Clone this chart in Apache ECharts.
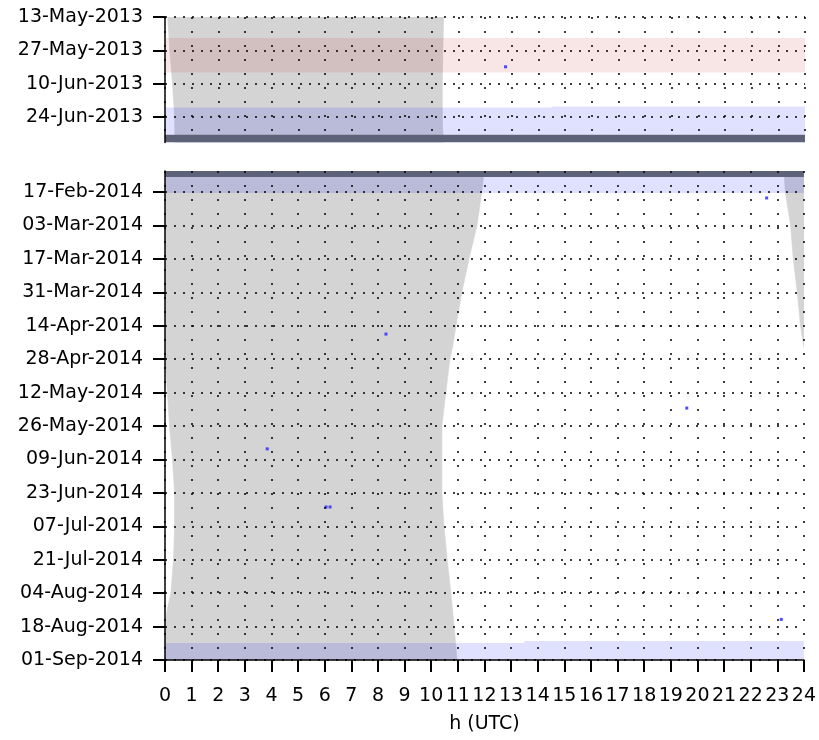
<!DOCTYPE html>
<html>
<head>
<meta charset="utf-8">
<script src="https://cdn.jsdelivr.net/npm/echarts@6/dist/echarts.min.js"></script>
<style>html,body{margin:0;padding:0;background:#fff}#c{width:819px;height:740px}</style>
</head>
<body>
<div id="c"></div>
<script>
// ---------------- data ----------------
const hourTicks = [0,1,2,3,4,5,6,7,8,9,10,11,12,13,14,15,16,17,18,19,20,21,22,23,24];

// top panel (2013)
const topTickDates = ['2013-05-13','2013-05-27','2013-06-10','2013-06-24'];
const topStart = '2013-05-13';
const topEnd = '2013-07-04 17:00';
const nightTopDates = ['2013-05-13','2013-05-27','2013-06-10','2013-06-24','2013-07-05'];
const nightTopStart = [0.10, 0.18, 0.28, 0.36, 0.37];
const nightTopEnd   = [10.45, 10.42, 10.40, 10.40, 10.43];
const bandTopKind = ['red','blue','blue','dark'];
const bandTopFrom = ['2013-05-21 19:00','2013-06-19 23:00','2013-06-19 13:00','2013-07-01 10:00'];
const bandTopTo   = ['2013-06-05 07:00','2013-07-01 10:00','2013-07-01 10:00','2013-07-04 17:00'];
const bandTopH0 = [0, 0, 14.5, 0];
const bandTopH1 = [24, 14.5, 24, 24];
const detTopDates = ['2013-06-02 22:00'];
const detTopHours = [12.77];

// bottom panel (2014)
const botTickDates = ['2014-02-17','2014-03-03','2014-03-17','2014-03-31','2014-04-14','2014-04-28','2014-05-12','2014-05-26','2014-06-09','2014-06-23','2014-07-07','2014-07-21','2014-08-04','2014-08-18','2014-09-01'];
const botStart = '2014-02-08 05:00';
const botEnd = '2014-09-01';
const nightBotDates = ['2014-02-07','2014-02-17','2014-03-03','2014-03-17','2014-03-31','2014-04-14','2014-04-23','2014-04-28','2014-05-12','2014-05-26','2014-06-09','2014-06-23','2014-07-07','2014-07-21','2014-08-04','2014-08-11','2014-08-18','2014-09-01'];
const nightBotStart = [-0.75,-0.70,-0.50,-0.40,-0.25,-0.13,0.00,0.00,0.09,0.17,0.28,0.36,0.36,0.32,0.22,0.08,0.00,0.00];
const nightBotEnd   = [12.00,11.90,11.72,11.42,11.15,10.93,10.80,10.70,10.55,10.40,10.40,10.40,10.48,10.60,10.74,10.80,10.86,10.97];
const bandBotKind = ['dark','blue','blue','blue'];
const bandBotFrom = ['2014-02-08 05:00','2014-02-10 17:00','2014-08-24 22:00','2014-08-24 01:00'];
const bandBotTo   = ['2014-02-10 17:00','2014-02-17 10:00','2014-09-01','2014-09-01'];
const bandBotH0 = [0, 0, 0, 13.5];
const bandBotH1 = [24, 24, 13.5, 24];
const detBotDates = ['2014-02-19 12:00','2014-04-17 12:00','2014-05-18 12:00','2014-06-04 14:00','2014-06-28 22:00','2014-06-28 22:00','2014-08-15 00:00'];
const detBotHours = [22.6, 8.3, 19.6, 3.84, 6.05, 6.2, 23.15];

// ---------------- helpers ----------------
const MONTHS = ['Jan','Feb','Mar','Apr','May','Jun','Jul','Aug','Sep','Oct','Nov','Dec'];
function dayNum(s){
  const parts = s.split(' ');
  const [Y,M,D] = parts[0].split('-').map(Number);
  let h=0, m=0;
  if (parts[1]) { [h,m] = parts[1].split(':').map(Number); }
  return Date.UTC(Y, M-1, D, h, m) / 86400000;
}
const top0 = dayNum(topStart);
const botRef = dayNum(botEnd);
const topVal = s => dayNum(s) - top0;
const botVal = s => botRef - dayNum(s);
function fmt(dn){
  const d = new Date(Math.round(dn) * 86400000);
  const dd = String(d.getUTCDate()).padStart(2,'0');
  return dd + '-' + MONTHS[d.getUTCMonth()] + '-' + d.getUTCFullYear();
}

// ---------------- styles ----------------
const FONT = 'DejaVu Sans';
const NIGHT = '#d4d4d4';
const BANDCOL = { red: 'rgba(200,50,50,0.12)', blue: 'rgba(0,0,255,0.12)', dark: '#5e6279' };
const gridLine = (dash) => ({ show: true, lineStyle: { color: '#000', width: 1.5, type: dash } });

function nightSeries(dates, starts, ends, valFn, idx){
  const data = [];
  for (let i = 0; i < dates.length - 1; i++) data.push([i]);
  return {
    type: 'custom', xAxisIndex: idx, yAxisIndex: idx, clip: true, z: 1, silent: true,
    data: data,
    renderItem: function(params, api){
      const i = params.dataIndex;
      const v0 = valFn(dates[i]), v1 = valFn(dates[i+1]);
      const s0 = starts[i], s1 = starts[i+1], e0 = ends[i], e1 = ends[i+1];
      const children = [];
      const main = [[Math.max(0,s0), v0],[e0, v0],[e1, v1],[Math.max(0,s1), v1]].map(p => api.coord(p));
      children.push({ type: 'polygon', shape: { points: main }, style: { fill: NIGHT, stroke: NIGHT, lineWidth: 0.6 } });
      if (s0 < 0 || s1 < 0) {
        const wrap = [[24+Math.min(0,s0), v0],[24, v0],[24, v1],[24+Math.min(0,s1), v1]].map(p => api.coord(p));
        children.push({ type: 'polygon', shape: { points: wrap }, style: { fill: NIGHT, stroke: NIGHT, lineWidth: 0.6 } });
      }
      return { type: 'group', children: children };
    }
  };
}

function bandSeries(kinds, from, to, h0, h1, valFn, idx){
  return {
    type: 'custom', xAxisIndex: idx, yAxisIndex: idx, clip: true, z: 3, silent: true,
    data: kinds.map((k, i) => [i]),
    renderItem: function(params, api){
      const i = params.dataIndex;
      const a = api.coord([h0[i], valFn(from[i])]);
      const b = api.coord([h1[i], valFn(to[i])]);
      return { type: 'rect',
        shape: { x: Math.min(a[0],b[0]), y: Math.min(a[1],b[1]), width: Math.abs(b[0]-a[0]), height: Math.abs(b[1]-a[1]) },
        style: { fill: BANDCOL[kinds[i]] } };
    }
  };
}

function detSeries(dates, hours, valFn, idx){
  return {
    type: 'scatter', xAxisIndex: idx, yAxisIndex: idx, z: 4, silent: true,
    symbol: 'rect', symbolSize: 3,
    itemStyle: { color: '#2222ff' },
    data: dates.map((d, i) => [hours[i], valFn(d)])
  };
}

const topTickVals = topTickDates.map(topVal);
const botTickVals = botTickDates.map(botVal);

const yLabel = (fn) => ({ fontFamily: FONT, fontSize: 19, color: '#000', margin: 22, formatter: fn });

const option = {
  animation: false,
  backgroundColor: '#fff',
  grid: [
    { left: 165, top: 17, width: 640, height: 125.5 },
    { left: 165, top: 171, width: 640, height: 489 }
  ],
  xAxis: [
    { gridIndex: 0, type: 'value', min: 0, max: 24, interval: 1, z: 10,
      axisLine: { show: false }, axisTick: { show: false }, axisLabel: { show: false },
      splitLine: gridLine([2, 12]) },
    { gridIndex: 1, type: 'value', min: 0, max: 24, interval: 1, z: 10,
      axisLine: { onZero: false, lineStyle: { color: '#000', width: 1.5 } },
      axisTick: { length: 12, lineStyle: { color: '#000', width: 2 }, customValues: hourTicks },
      axisLabel: { fontFamily: FONT, fontSize: 19, color: '#000', margin: 27, customValues: hourTicks },
      splitLine: gridLine([2, 12]),
      name: 'h (UTC)', nameLocation: 'middle', nameGap: 55,
      nameTextStyle: { fontFamily: FONT, fontSize: 19, color: '#000' } }
  ],
  yAxis: [
    { gridIndex: 0, type: 'value', inverse: true, min: 0, max: topVal(topEnd), interval: 14, z: 10,
      axisLine: { onZero: false, lineStyle: { color: '#000', width: 1.5 } },
      axisTick: { length: 12, lineStyle: { color: '#000', width: 2 }, customValues: topTickVals },
      axisLabel: Object.assign(yLabel(v => fmt(top0 + v)), { customValues: topTickVals }),
      splitLine: gridLine([2, 7]) },
    { gridIndex: 1, type: 'value', min: 0, max: botVal(botStart), interval: 14, z: 10,
      axisLine: { onZero: false, lineStyle: { color: '#000', width: 1.5 } },
      axisTick: { length: 12, lineStyle: { color: '#000', width: 2 }, customValues: botTickVals },
      axisLabel: Object.assign(yLabel(v => fmt(botRef - v)), { customValues: botTickVals }),
      splitLine: gridLine([2, 7]) }
  ],
  series: [
    nightSeries(nightTopDates, nightTopStart, nightTopEnd, topVal, 0),
    bandSeries(bandTopKind, bandTopFrom, bandTopTo, bandTopH0, bandTopH1, topVal, 0),
    detSeries(detTopDates, detTopHours, topVal, 0),
    nightSeries(nightBotDates, nightBotStart, nightBotEnd, botVal, 1),
    bandSeries(bandBotKind, bandBotFrom, bandBotTo, bandBotH0, bandBotH1, botVal, 1),
    detSeries(detBotDates, detBotHours, botVal, 1)
  ]
};

const chart = echarts.init(document.getElementById('c'), null, { renderer: 'canvas' });
chart.setOption(option);
</script>
</body>
</html>
